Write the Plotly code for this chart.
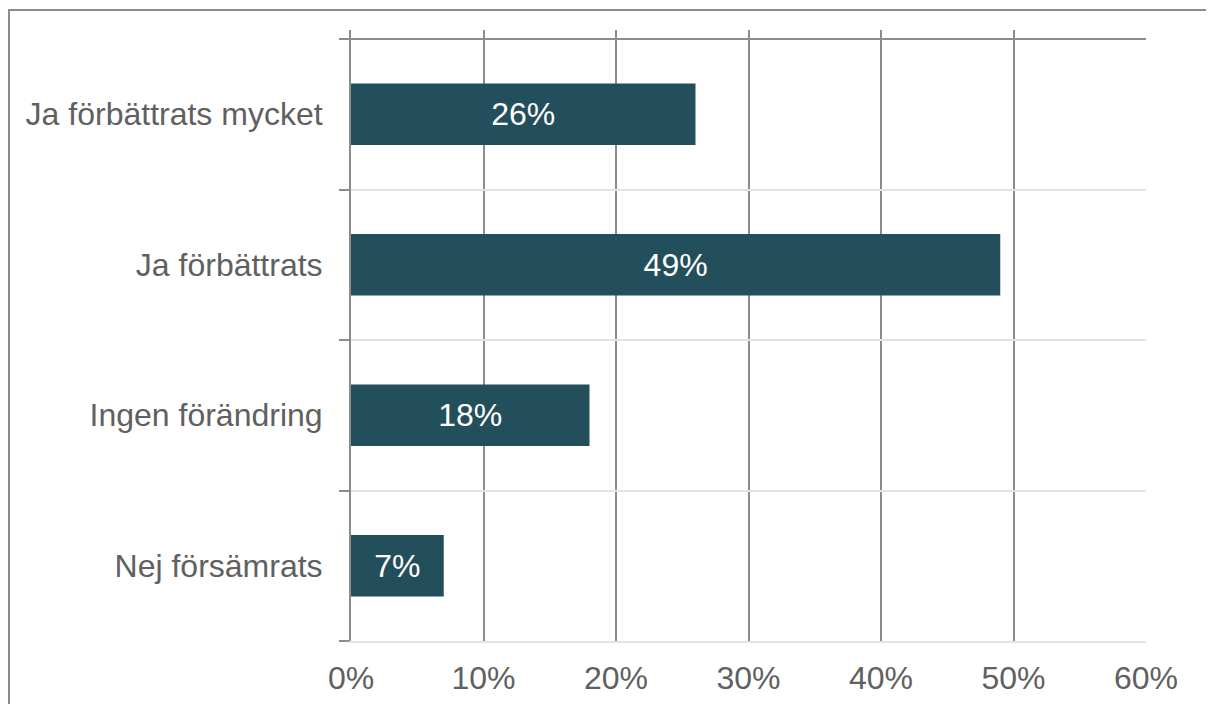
import plotly.graph_objects as go

categories = ["Ja förbättrats mycket", "Ja förbättrats", "Ingen förändring", "Nej försämrats"]
values = [26, 49, 18, 7]
tick_vals = [0, 10, 20, 30, 40, 50, 60]
tick_text = ["0%", "10%", "20%", "30%", "40%", "50%", "60%"]

cats_rev = categories[::-1]
vals_rev = values[::-1]

FONT = "Liberation Sans, Arial, sans-serif"
GRAY = "#606060"
BAR = "#234E5B"
FS = 32

W, H = 1214, 704
OFF = 8  # page body margin
L = 351 - OFF
T = 30 - OFF
R = (W + OFF) - 1146
B = (H + OFF) - 641
pw = W - L - R
ph = H - T - B

fig = go.Figure(go.Bar(
    y=cats_rev, x=vals_rev, orientation="h",
    marker=dict(color=BAR, line=dict(width=0)),
    width=0.41,
    text=[f"{v}%" for v in vals_rev], textposition="inside", insidetextanchor="middle",
    textfont=dict(color="white", size=FS, family=FONT),
    hoverinfo="skip",
))

fig.update_layout(
    width=W, height=H,
    margin=dict(l=L, r=R, t=T, b=B, pad=0),
    paper_bgcolor="white", plot_bgcolor="white",
    showlegend=False,
    font=dict(family=FONT, color=GRAY, size=FS),
    uniformtext=dict(minsize=FS, mode="show"),
    xaxis=dict(
        range=[0, 60], tickvals=tick_vals, ticktext=tick_text,
        showgrid=True, gridcolor="#8c8c8c", gridwidth=1.5,
        zeroline=False, showline=True, linecolor="#e3e3e3", linewidth=2,
        ticks="", tickfont=dict(size=FS, color=GRAY, family=FONT),
        ticklabelstandoff=8,
        fixedrange=True,
    ),
    yaxis=dict(
        type="category", range=[-0.5, 3.5 + 9 / 150.5],
        categoryorder="array", categoryarray=cats_rev,
        showgrid=True, gridcolor="#e3e3e3", gridwidth=2,
        tickson="boundaries", ticks="outside", ticklen=10, tickcolor="#8c8c8c", tickwidth=2,
        showline=True, linecolor="#8c8c8c", linewidth=2,
        zeroline=False,
        tickfont=dict(size=FS, color=GRAY, family=FONT),
        ticklabelstandoff=20,
        fixedrange=True,
    ),
    shapes=[
        dict(type="line", xref="x", yref="y", x0=0, x1=60, y0=3.5, y1=3.5,
             line=dict(color="#8c8c8c", width=2), layer="above"),
        dict(type="rect", xref="paper", yref="paper",
             x0=(9 - 351) / pw, x1=(1207 - 351) / pw,
             y0=-0.2, y1=(641 - 10) / ph,
             line=dict(color="#8c8c8c", width=2), fillcolor="rgba(0,0,0,0)", layer="below"),
    ],
)

fig.write_html("out.html")
